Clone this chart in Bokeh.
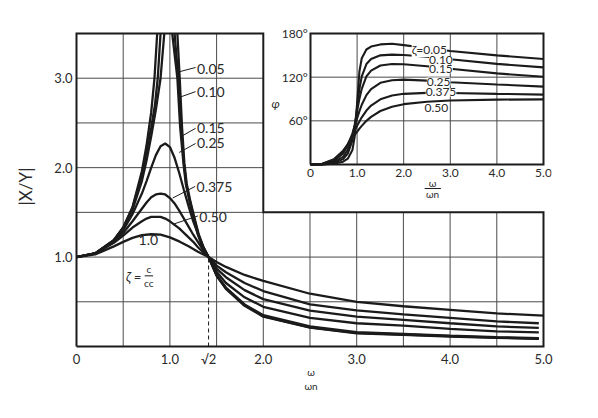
from bokeh.plotting import figure
from bokeh.models import Range1d, FixedTicker, Label, PrintfTickFormatter
from bokeh.core.properties import value
from bokeh.embed import file_html
from bokeh.resources import INLINE

# ---------------- data: transmissibility |X/Y| vs w/wn ----------------
# values that run off the top of the chart are entered as 3.6 (just above the 3.5 edge)
r_005 = [0, 0.2, 0.4, 0.5, 0.6, 0.7, 0.75, 0.8, 0.835, 0.864, 0.9, 1.0, 1.05, 1.08, 1.105, 1.13,
         1.155, 1.18, 1.22, 1.26, 1.31, 1.36, 1.414, 1.5, 1.6, 1.8, 2.0, 2.5, 3.0, 3.5, 4.0, 4.5, 4.95]
T_005 = [1.0, 1.04, 1.19, 1.33, 1.56, 1.96, 2.25, 2.62, 3.0, 3.5, 3.6, 3.6, 3.6, 3.5, 3.0, 2.45,
         2.05, 1.82, 1.62, 1.45, 1.25, 1.11, 1.0, 0.79, 0.645, 0.455, 0.333, 0.21, 0.148, 0.13, 0.111, 0.097, 0.085]

r_010 = [0, 0.2, 0.4, 0.5, 0.6, 0.7, 0.75, 0.8, 0.84, 0.87, 0.9, 0.95, 1.0, 1.05, 1.09, 1.12, 1.15,
         1.175, 1.215, 1.255, 1.305, 1.355, 1.414, 1.5, 1.6, 1.8, 2.0, 2.5, 3.0, 3.5, 4.0, 4.5, 4.95]
T_010 = [1.0, 1.04, 1.19, 1.33, 1.55, 1.92, 2.18, 2.45, 2.7, 3.0, 3.5, 3.6, 3.6, 3.5, 3.0, 2.45, 2.05,
         1.82, 1.62, 1.45, 1.25, 1.11, 1.0, 0.795, 0.65, 0.46, 0.34, 0.215, 0.153, 0.134, 0.115, 0.1, 0.088]

r_015 = [0, 0.2, 0.4, 0.5, 0.6, 0.7, 0.75, 0.8, 0.85, 0.9, 0.94, 0.98, 1.025, 1.08, 1.11, 1.145, 1.17,
         1.21, 1.25, 1.3, 1.35, 1.414, 1.5, 1.6, 1.8, 2.0, 2.5, 3.0, 3.5, 4.0, 4.5, 4.95]
T_015 = [1.0, 1.04, 1.19, 1.32, 1.53, 1.85, 2.08, 2.35, 2.65, 3.0, 3.5, 3.6, 3.5, 3.0, 2.45, 2.05, 1.82,
         1.62, 1.45, 1.25, 1.11, 1.0, 0.80, 0.66, 0.47, 0.35, 0.225, 0.16, 0.14, 0.12, 0.105, 0.092]

r_mid = [0, 0.2, 0.4, 0.5, 0.6, 0.7, 0.75, 0.8, 0.85, 0.9, 0.95, 1.0, 1.05, 1.1, 1.15, 1.2, 1.25, 1.3,
         1.35, 1.414, 1.5, 1.6, 1.8, 2.0, 2.5, 3.0, 3.5, 4.0, 4.5, 4.95]
T_025 = [1.0, 1.04, 1.18, 1.30, 1.48, 1.71, 1.85, 2.0, 2.14, 2.24, 2.27, 2.23, 2.11, 1.94, 1.75, 1.57, 1.40, 1.26,
         1.13, 1.0, 0.835, 0.71, 0.55, 0.444, 0.32, 0.26, 0.233, 0.197, 0.17, 0.159]
T_0375 = [1.0, 1.04, 1.17, 1.27, 1.40, 1.54, 1.61, 1.67, 1.70, 1.71, 1.70, 1.66, 1.60, 1.52, 1.43, 1.34, 1.25, 1.17,
          1.09, 1.0, 0.87, 0.775, 0.63, 0.53, 0.40, 0.333, 0.297, 0.26, 0.225, 0.208]
T_050 = [1.0, 1.04, 1.16, 1.24, 1.33, 1.40, 1.43, 1.45, 1.45, 1.45, 1.43, 1.40, 1.36, 1.32, 1.27, 1.22, 1.17, 1.11,
         1.06, 1.0, 0.905, 0.83, 0.71, 0.62, 0.47, 0.405, 0.36, 0.32, 0.28, 0.26]

r_100 = [0, 0.2, 0.4, 0.5, 0.6, 0.7, 0.8, 0.9, 1.0, 1.1, 1.2, 1.3, 1.414, 1.5, 1.6, 1.8, 2.0, 2.5, 3.0, 3.5,
         4.0, 4.5, 5.0]
T_100 = [1.0, 1.03, 1.12, 1.17, 1.215, 1.245, 1.255, 1.25, 1.22, 1.175, 1.12, 1.06, 1.0, 0.945, 0.89, 0.80,
         0.733, 0.59, 0.50, 0.45, 0.41, 0.37, 0.345]

MAIN_SERIES = [(r_005, T_005), (r_010, T_010), (r_015, T_015), (r_mid, T_025),
               (r_mid, T_0375), (r_mid, T_050), (r_100, T_100)]
MAIN_LABELS = ["0.05", "0.10", "0.15", "0.25", "0.375", "0.50", "1.0"]

SQRT2 = 1.414
MAIN_X_TICKS = [0, 1, SQRT2, 2, 3, 4, 5]
MAIN_X_TICK_LABELS = ["0", "1.0", "\u221a2", "2.0", "3.0", "4.0", "5.0"]
MAIN_Y_TICKS = [1, 2, 3]
MAIN_GRID_X = [0.5, 1.0, 1.5, 2.0, 2.5, 3.0, 3.5, 4.0, 4.5]
MAIN_GRID_Y = [0.5, 1.0, 1.5, 2.0, 2.5, 3.0]

# ---------------- data: phase angle phi (deg) vs w/wn (inset) ----------------
r_ph = [0, 0.25, 0.5, 0.7, 0.8, 0.9, 0.95, 1.0, 1.05, 1.1, 1.2, 1.3, 1.5, 1.75, 2.0, 2.5, 3.0, 4.0, 5.0]
phi_005 = [0, 0.1, 1.0, 3.8, 8.0, 20, 39, 84, 128, 146, 158, 162, 165, 166, 164, 160, 156, 150, 145]
phi_010 = [0, 0.2, 1.9, 7.4, 14.9, 33, 52, 79, 104, 121, 138, 145, 150, 151, 150.5, 148, 144.7, 138.3, 133.5]
phi_015 = [0, 0.3, 2.8, 10.5, 20, 40, 55, 73, 90.5, 104, 121, 129, 136, 138, 137.7, 135, 131.6, 125.2, 120.5]
phi_025 = [0, 0.5, 4.4, 15.2, 26.2, 42.9, 53, 63.4, 73.4, 82.1, 95.3, 103.7, 112.2, 115.8, 116.6, 115.3, 113.1, 110, 107]
phi_0375 = [0, 0.7, 6.0, 18.1, 28.1, 40.3, 46.7, 53.1, 59.2, 64.8, 74.1, 81, 89.6, 94.8, 97.1, 98.4, 98.3, 97.1, 96]
phi_050 = [0, 0.9, 7.1, 18.9, 27.1, 36.1, 40.6, 45, 49.2, 53.1, 60, 65.5, 73.5, 79.4, 82.9, 86.3, 87.9, 89.1, 89.5]
PHASE_SERIES = [phi_005, phi_010, phi_015, phi_025, phi_0375, phi_050]
PHASE_LABELS = ["\u03b6=0.05", "0.10", "0.15", "0.25", "0.375", "0.50"]
INSET_X_TICKS = [0, 1, 2, 3, 4, 5]
INSET_X_TICK_LABELS = ["0", "1.0", "2.0", "3.0", "4.0", "5.0"]
INSET_Y_TICKS = [60, 120, 180]
INSET_Y_TICK_LABELS = ["60\u00b0", "120\u00b0", "180\u00b0"]

# ---------------- style / layout ----------------
FONT = "Lato"
INK = "#1b1b1b"
TXT = "#2a2a2a"
GRID = "#4a4a4a"
X0, X1, Y0, Y1 = 0.0, 5.0, 0.0, 3.5
XCUT, YCUT = 2.0, 1.5
P0, P1, Q0, Q1 = 0.0, 5.0, 0.0, 180.0

p = figure(frame_width=481, frame_height=332, output_backend="svg", toolbar_location=None,
           x_range=Range1d(-0.0642, 5.0857), y_range=Range1d(-0.0671, 3.6454),
           min_border_left=70, min_border_right=31, min_border_top=20, min_border_bottom=50)
p.outline_line_color = None
p.xgrid.visible = False
p.ygrid.visible = False
p.extra_x_ranges = {"ph_x": Range1d(-5.1502, 5.1717)}
p.extra_y_ranges = {"ph_y": Range1d(-258.32, 197.86)}

xa = p.xaxis[0]
xa.ticker = FixedTicker(ticks=MAIN_X_TICKS)
xa.major_label_overrides = {t: s for t, s in zip(MAIN_X_TICKS, MAIN_X_TICK_LABELS)}
ya = p.yaxis[0]
ya.ticker = FixedTicker(ticks=MAIN_Y_TICKS)
ya.formatter = PrintfTickFormatter(format="%.1f")
for ax in (xa, ya):
    ax.axis_line_color = None
    ax.major_tick_line_color = None
    ax.minor_tick_line_color = None
    ax.major_tick_out = 0
    ax.major_tick_in = 0
    ax.minor_tick_out = 0
    ax.minor_tick_in = 0
    ax.major_label_standoff = -2
    ax.major_label_text_font = FONT
    ax.major_label_text_font_size = "13px"
    ax.major_label_text_color = TXT
    ax.axis_label_text_font = FONT
    ax.axis_label_text_font_style = "normal"
    ax.axis_label_text_color = TXT
xa.axis_label = "\u03c9\n\u03c9n"
xa.axis_label_text_font_size = "10px"
xa.axis_label_standoff = -4
ya.axis_label = "|X/Y|"
ya.axis_label_text_font_size = "17px"
ya.axis_label_standoff = 15

# main grid (L-shaped region)
gx0, gy0, gx1, gy1 = [], [], [], []
for g in MAIN_GRID_X:
    gx0.append(g); gy0.append(Y0); gx1.append(g); gy1.append(Y1 if g < XCUT else YCUT)
for g in MAIN_GRID_Y:
    gx0.append(X0); gy0.append(g); gx1.append(X1 if g < YCUT else XCUT); gy1.append(g)
p.segment(gx0, gy0, gx1, gy1, line_color=GRID, line_width=1)

# dashed sqrt(2) marker
p.line([SQRT2, SQRT2], [Y0, 1.0], line_color=INK, line_width=1, line_dash="4 3")

# main curves
for rs, ts in MAIN_SERIES:
    p.line(rs, ts, line_color=INK, line_width=2.3)

# blank out curves above the top edge, then draw the L-shaped frame
p.quad(left=[p.x_range.start - 1], right=[p.x_range.end + 1], bottom=[Y1], top=[p.y_range.end + 1],
       fill_color="white", line_color=None)
p.line([X0, X0, XCUT, XCUT, X1, X1, X0], [Y0, Y1, Y1, YCUT, YCUT, Y0, Y0],
       line_color=INK, line_width=2, line_join="miter")

# main curve labels (left edges) with leader lines
lab_x = [1.29, 1.29, 1.29, 1.29, 1.285, 1.315, 0.664]
lab_y = [3.10, 2.85, 2.44, 2.27, 1.78, 1.45, 1.19]
p.text(lab_x, lab_y, text=MAIN_LABELS, text_font=value(FONT), text_font_size="14px",
       text_color=TXT, text_baseline="middle", text_align="left")
p.segment([1.092, 1.113, 1.14, 1.10, 1.03, 1.042], [3.07, 2.79, 2.36, 2.17, 1.66, 1.37],
          [1.275, 1.275, 1.275, 1.275, 1.27, 1.30], [3.12, 2.85, 2.44, 2.27, 1.79, 1.46],
          line_color=INK, line_width=1)
# zeta = c / c_c
p.text([0.53], [0.78], text=["\u03b6 ="], text_font=value(FONT), text_font_size="13px",
       text_color=TXT, text_baseline="middle", text_font_style="italic")
p.text([0.775, 0.775], [0.865, 0.715], text=["c", "c\u1d04"], text_font=value(FONT),
       text_font_size="10px", text_color=TXT, text_baseline="middle", text_align="center")
p.line([0.73, 0.82], [0.79, 0.79], line_color=INK, line_width=1)

# ---------------- inset: phase angle ----------------
R = dict(x_range_name="ph_x", y_range_name="ph_y")
p.segment([1, 2, 3, 4, P0, P0], [Q0] * 4 + [60, 120], [1, 2, 3, 4, P1, P1], [Q1] * 4 + [60, 120],
          line_color=GRID, line_width=1, **R)
for phis in PHASE_SERIES:
    p.line(r_ph, phis, line_color=INK, line_width=2.1, **R)
p.line([P0, P0, P1, P1, P0], [Q0, Q1, Q1, Q0, Q0], line_color=INK, line_width=2, line_join="miter", **R)

ph_lab_x = [2.55, 2.8, 2.8, 2.75, 2.8, 2.7]
ph_lab_y = [158, 143, 131, 114, 99, 78]
for s, lx, ly in zip(PHASE_LABELS, ph_lab_x, ph_lab_y):
    p.add_layout(Label(x=lx, y=ly, text=s, text_align="center", text_baseline="middle",
                       text_font=FONT, text_font_size="12px", text_color=TXT,
                       background_fill_color="white", **R))

p.text(INSET_X_TICKS, [-11] * len(INSET_X_TICKS), text=INSET_X_TICK_LABELS, text_font=value(FONT),
       text_font_size="12px", text_color=TXT, text_align="center", text_baseline="middle", **R)
p.text([-0.06] * 3, INSET_Y_TICKS, text=INSET_Y_TICK_LABELS, text_font=value(FONT),
       text_font_size="12px", text_color=TXT, text_align="right", text_baseline="middle", **R)
p.text([-0.75], [84], text=["\u03c6"], text_font=value(FONT), text_font_size="12px",
       text_font_style="italic", text_color=TXT, text_align="center", text_baseline="middle", **R)
p.text([2.62, 2.62], [-25, -41], text=["\u03c9", "\u03c9n"], text_font=value(FONT), text_font_size="10px",
       text_color=TXT, text_align="center", text_baseline="middle", **R)
p.line([2.45, 2.8], [-33, -33], line_color=INK, line_width=1, **R)

open("out.html", "w").write(file_html(p, INLINE))
